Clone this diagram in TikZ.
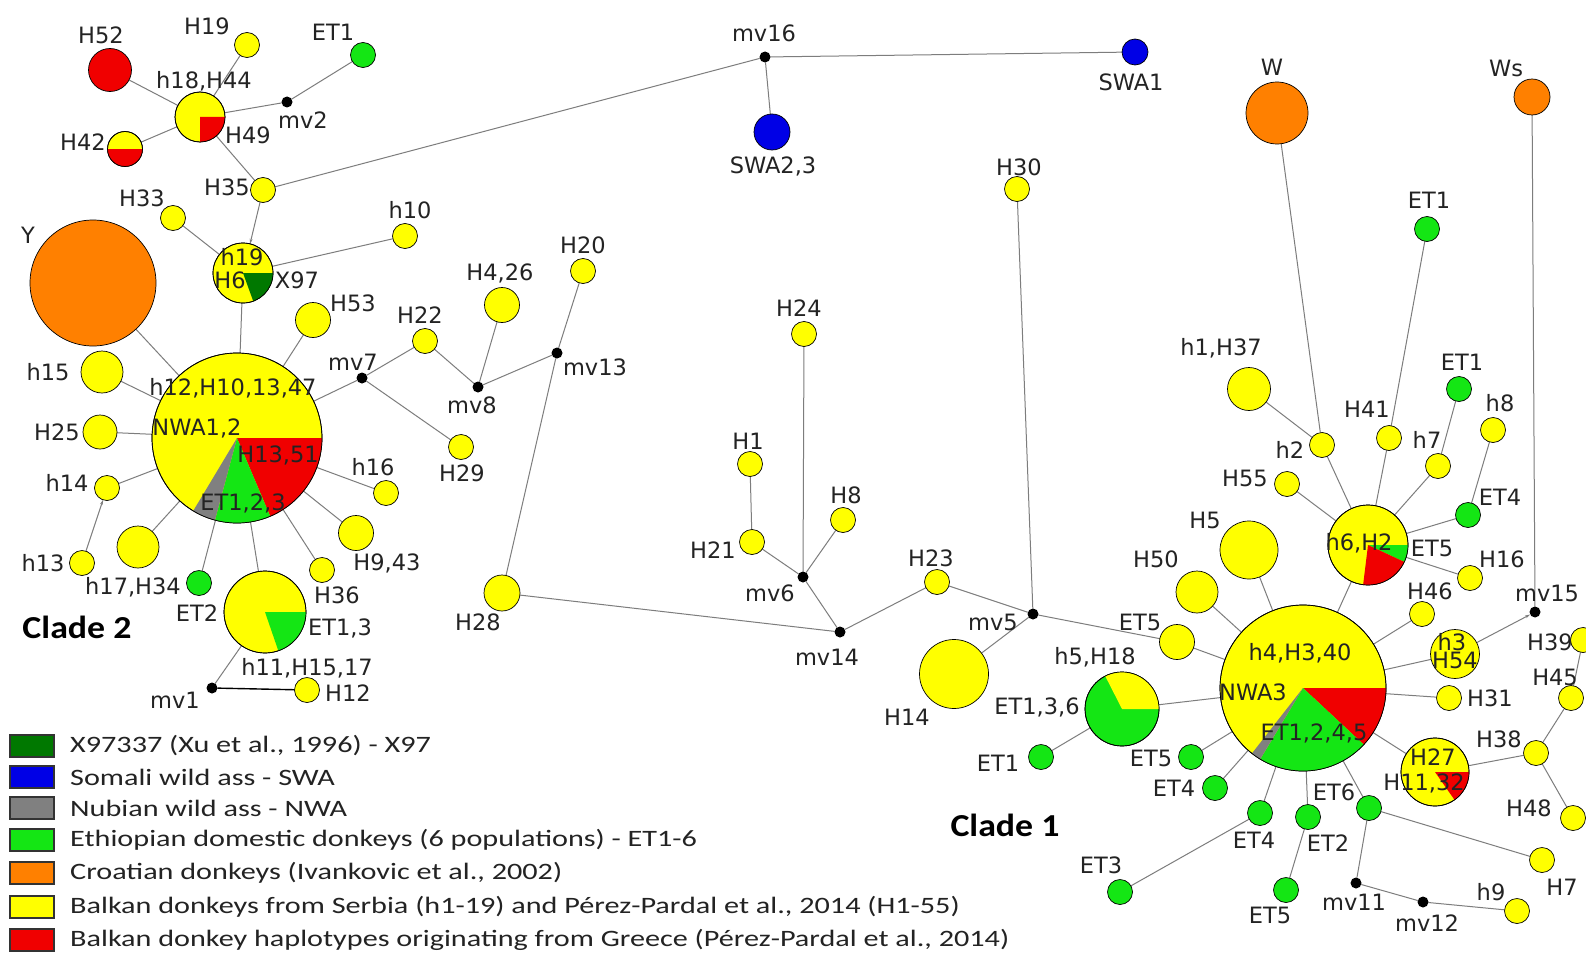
\documentclass[tikz,border=0pt]{standalone}
\usepackage{fontspec}
\setmainfont{DejaVu Sans}
\newfontfamily\legfont[FakeStretch=1.285]{Carlito}
\newfontfamily\cladefont[FakeStretch=1.12]{Carlito}
\usetikzlibrary{arrows.meta}
\pgfdeclarelayer{back}
\pgfdeclarelayer{bg}
\pgfsetlayers{back,bg,main}
\definecolor{cyel}{RGB}{255,255,0}
\definecolor{cred}{RGB}{240,0,0}
\definecolor{cgrn}{RGB}{20,230,20}
\definecolor{cdgr}{RGB}{0,120,0}
\definecolor{cblu}{RGB}{0,0,230}
\definecolor{cgry}{RGB}{128,128,128}
\definecolor{corg}{RGB}{255,128,0}
\definecolor{cedge}{RGB}{125,125,125}
\definecolor{ctxt}{RGB}{35,35,35}
\newcommand\lblfont{\fontsize{22.5}{26}\selectfont}
\newcommand\hp[4]{\node[hapn,fill=#4,minimum size=#3pt] (#1) at (#2) {};}
\newcommand\mvd[2]{\node[mvn] (#1) at (#2) {};}
\newcommand\sect[5]{\fill[#5] (#1.center) -- ++(#2:#4pt) arc[start angle=#2,end angle=#3,radius=#4pt] -- cycle;}
\newcommand\ring[2]{\draw[line width=0.7pt] (#1.center) circle[radius=#2pt];}
\newcommand\lb[3]{\node[lbl] (#1) at (#2) {#3};}
\begin{document}
\begin{tikzpicture}[x=1pt,y=-1pt,
  hapn/.style={circle,draw=black,line width=0.7pt,inner sep=0pt,outer sep=0pt},
  mvn/.style={circle,fill=black,inner sep=0pt,outer sep=0pt,minimum size=11pt},
  edge/.style={draw=cedge,line width=1pt},
  lbl/.style={font=\lblfont,text=ctxt,inner sep=0pt},
  legsq/.style={rectangle,draw=black!80,line width=1.2pt,minimum width=44pt,minimum height=22pt,inner sep=0pt},
  legtxt/.style={font=\legfont\fontsize{23.5}{26}\selectfont,text=ctxt,anchor=west,inner sep=0pt},
  clade/.style={font=\cladefont\bfseries\fontsize{32}{36}\selectfont,text=black,inner sep=0pt}]
\begin{pgfonlayer}{back}
\fill[white] (0,0) rectangle (1586,955);
\end{pgfonlayer}
\useasboundingbox (0,0) rectangle (1586,955);

% ---------- left cluster (Clade 2) ----------
\hp{H52}{110,70}{43}{cred}
\hp{H19}{247,45}{25}{cyel}
\hp{ETa}{363,55}{25}{cgrn}
\hp{P1}{200,117}{50}{cyel}
\mvd{mv2}{287,102}
\hp{H42}{125,149}{35}{cyel}
\hp{H35}{263,190}{25}{cyel}
\hp{H33}{173,218}{25}{cyel}
\hp{Y}{93,283}{126}{corg}
\hp{h10}{405,236}{25}{cyel}
\hp{P2}{243,273}{60}{cyel}
\hp{H53}{313,320}{35}{cyel}
\hp{B1}{237,438}{170}{cyel}
\hp{h15}{102,372}{42}{cyel}
\hp{H25}{100,432}{34}{cyel}
\hp{h14}{107,488}{25}{cyel}
\hp{h13}{82,563}{25}{cyel}
\hp{U1}{138,547}{42}{cyel}
\hp{ETb}{199,583}{25}{cgrn}
\hp{P3}{265,612}{82}{cyel}
\mvd{mv1}{212,688}
\hp{H12}{307,690}{25}{cyel}
\hp{H36}{322,570}{25}{cyel}
\hp{H943}{356,533}{35}{cyel}
\hp{h16}{386,493}{25}{cyel}
\mvd{mv7}{362,378}
\hp{H22}{425,341}{25}{cyel}
\hp{H426}{502,305}{35}{cyel}
\hp{H20}{583,271}{25}{cyel}
\mvd{mv8}{478,387}
\mvd{mv13}{557,353}
\hp{H29}{461,447}{25}{cyel}
\hp{H28}{502,593}{36}{cyel}

% ---------- middle ----------
\mvd{mv16}{765,57}
\hp{SWA1}{1135,52}{26}{cblu}
\hp{SWA23}{772,132}{36}{cblu}
\hp{H30}{1017,189}{25}{cyel}
\hp{H24}{804,334}{25}{cyel}
\hp{H1}{750,464}{25}{cyel}
\hp{H21}{752,542}{25}{cyel}
\hp{H8}{843,520}{25}{cyel}
\mvd{mv6}{803,577}
\mvd{mv14}{840,632}
\hp{H23}{937,582}{25}{cyel}
\mvd{mv5}{1033,614}
\hp{H14}{954,674}{69}{cyel}

% ---------- right cluster (Clade 1) ----------
\hp{Y5}{1177,642}{35}{cyel}
\hp{P4}{1122,709}{74}{cgrn}
\hp{ETc}{1041,757}{25}{cgrn}
\hp{W}{1277,113}{62}{corg}
\hp{Ws}{1532,97}{36}{corg}
\hp{ETd}{1427,229}{25}{cgrn}
\hp{h1H37}{1249,389}{43}{cyel}
\hp{h2}{1322,445}{25}{cyel}
\hp{H41}{1389,438}{25}{cyel}
\hp{ETe}{1459,389}{25}{cgrn}
\hp{h8}{1493,430}{25}{cyel}
\hp{h7}{1438,466}{25}{cyel}
\hp{H55}{1287,484}{25}{cyel}
\hp{ETf}{1468,515}{25}{cgrn}
\hp{P7}{1368,545}{80}{cyel}
\hp{H5}{1249,550}{58}{cyel}
\hp{H50}{1197,592}{42}{cyel}
\hp{H16}{1470,578}{25}{cyel}
\hp{H46}{1422,614}{25}{cyel}
\mvd{mv15}{1535,612}
\hp{P6}{1455,654}{49}{cyel}
\hp{H39}{1583,640}{25}{cyel}
\hp{H31}{1449,698}{25}{cyel}
\hp{H45}{1571,698}{25}{cyel}
\hp{B2}{1303,688}{166}{cyel}
\hp{ETg}{1191,757}{25}{cgrn}
\hp{ETh}{1215,788}{25}{cgrn}
\hp{ETi}{1260,813}{25}{cgrn}
\hp{ETj}{1308,817}{25}{cgrn}
\hp{ETk}{1369,808}{25}{cgrn}
\hp{ETl}{1120,892}{25}{cgrn}
\hp{ETm}{1286,890}{25}{cgrn}
\mvd{mv11}{1356,883}
\mvd{mv12}{1423,902}
\hp{h9}{1517,911}{25}{cyel}
\hp{H7}{1542,860}{25}{cyel}
\hp{H48}{1573,818}{25}{cyel}
\hp{H38}{1536,753}{25}{cyel}
\hp{P5}{1435,772}{68}{cyel}

% ---------- pie sectors ----------
\sect{P1}{-90}{0}{25}{cred}\ring{P1}{25}
\sect{H42}{180}{360}{17.5}{cred}\ring{H42}{17.5}
\sect{P2}{-70}{0}{30}{cdgr}\ring{P2}{30}
\sect{B1}{-67}{0}{85}{cred}
\sect{B1}{-105}{-67}{85}{cgrn}
\sect{B1}{-121}{-105}{85}{cgry}\ring{B1}{85}
\sect{P3}{-71}{0}{41}{cgrn}\ring{P3}{41}
\sect{P4}{0}{117}{37}{cyel}\ring{P4}{37}
\sect{P7}{-25}{0}{40}{cgrn}
\sect{P7}{-97}{-25}{40}{cred}\ring{P7}{40}
\sect{B2}{-43}{0}{83}{cred}
\sect{B2}{-121}{-43}{83}{cgrn}
\sect{B2}{-128}{-121}{83}{cgry}\ring{B2}{83}
\sect{P5}{-55}{0}{34}{cred}\ring{P5}{34}

% ---------- connectors ----------
\begin{pgfonlayer}{bg}
\draw[edge] (H52) -- (P1);
\draw[edge] (H19) -- (P1);
\draw[edge] (P1) -- (mv2);
\draw[edge] (mv2) -- (ETa);
\draw[edge] (H42) -- (P1);
\draw[edge] (P1) -- (H35);
\draw[edge,-{Stealth[length=5pt,width=3pt]}] (H35) -- (P2);
\draw[edge] (H35) -- (mv16);
\draw[edge] (H33) -- (P2);
\draw[edge] (P2) -- (h10);
\draw[edge] (P2) -- (B1);
\draw[edge] (Y) -- (B1);
\draw[edge] (h15) -- (B1);
\draw[edge] (H25) -- (B1);
\draw[edge] (h14) -- (B1);
\draw[edge,-{Stealth[length=5pt,width=3pt]}] (h13) -- (h14);
\draw[edge] (U1) -- (B1);
\draw[edge] (ETb) -- (B1);
\draw[edge] (P3) -- (B1);
\draw[edge] (H36) -- (B1);
\draw[edge] (H943) -- (B1);
\draw[edge] (h16) -- (B1);
\draw[edge] (mv7) -- (B1);
\draw[edge] (H53) -- (B1);
\draw[edge] (mv1) -- (P3);
\draw[draw=black,line width=1.4pt] (mv1) -- (H12);
\draw[edge] (mv7) -- (H22);
\draw[edge] (mv7) -- (H29);
\draw[edge] (H22) -- (mv8);
\draw[edge] (mv8) -- (H426);
\draw[edge] (mv8) -- (mv13);
\draw[edge] (mv13) -- (H20);
\draw[edge] (mv13) -- (H28);
\draw[edge] (H28) -- (mv14);
\draw[edge] (mv14) -- (mv6);
\draw[edge] (mv6) -- (H21);
\draw[edge] (H21) -- (H1);
\draw[edge] (mv6) -- (H24);
\draw[edge] (mv6) -- (H8);
\draw[edge] (mv14) -- (H23);
\draw[edge] (H23) -- (mv5);
\draw[edge] (mv5) -- (H30);
\draw[edge] (mv5) -- (H14);
\draw[edge] (mv5) -- (Y5);
\draw[edge] (Y5) -- (B2);
\draw[edge] (mv16) -- (SWA1);
\draw[edge] (mv16) -- (SWA23);
\draw[edge] (P4) -- (B2);
\draw[edge] (P4) -- (ETc);
\draw[edge] (ETg) -- (B2);
\draw[edge] (ETh) -- (B2);
\draw[edge] (ETi) -- (B2);
\draw[edge] (ETi) -- (ETl);
\draw[edge] (ETj) -- (B2);
\draw[edge] (ETj) -- (ETm);
\draw[edge] (ETk) -- (B2);
\draw[edge] (ETk) -- (mv11);
\draw[edge] (ETk) -- (H7);
\draw[edge] (mv11) -- (mv12);
\draw[edge] (mv12) -- (h9);
\draw[edge] (P5) -- (B2);
\draw[edge] (P5) -- (H38);
\draw[edge] (H38) -- (H45);
\draw[edge] (H38) -- (H48);
\draw[edge] (H45) -- (H39);
\draw[edge] (H31) -- (B2);
\draw[edge] (P6) -- (B2);
\draw[edge,-{Stealth[length=5pt,width=3pt]}] (P6) -- (mv15);
\draw[edge] (mv15) -- (Ws);
\draw[edge] (H46) -- (B2);
\draw[edge] (P7) -- (B2);
\draw[edge] (H50) -- (B2);
\draw[edge] (H5) -- (B2);
\draw[edge] (P7) -- (H55);
\draw[edge] (P7) -- (h2);
\draw[edge] (h2) -- (h1H37);
\draw[edge] (h2) -- (W);
\draw[edge] (P7) -- (H41);
\draw[edge] (H41) -- (ETd);
\draw[edge] (P7) -- (h7);
\draw[edge] (h7) -- (ETe);
\draw[edge] (P7) -- (ETf);
\draw[edge] (ETf) -- (h8);
\draw[edge] (P7) -- (H16);
\end{pgfonlayer}

% ---------- labels ----------
\lb{tH52}{101,35}{H52}
\lb{tH19}{207,26}{H19}
\lb{tETa}{333,32}{ET1}
\lb{tP1}{204,81}{h18,H44}
\lb{tH49}{248,135}{H49}
\lb{tmv2}{303,120}{mv2}
\lb{tH42}{83,142}{H42}
\lb{tH35}{227,187}{H35}
\lb{tH33}{142,198}{H33}
\lb{tY}{28,235}{Y}
\lb{th10}{410,210}{h10}
\lb{th19}{242,257}{h19}
\lb{tH6}{230,280}{H6}
\lb{tX97}{297,280}{X97}
\lb{tH20}{583,245}{H20}
\lb{tH426}{500,273}{H4,26}
\lb{tH53}{353,303}{H53}
\lb{tH22}{420,315}{H22}
\lb{tmv7}{353,362}{mv7}
\lb{tmv13}{595,367}{mv13}
\lb{tmv8}{472,405}{mv8}
\lb{th15}{48,372}{h15}
\lb{tB1}{233,388}{h12,H10,13,47}
\lb{tNWA}{197,428}{NWA1,2}
\lb{tH25}{57,432}{H25}
\lb{tH1351}{278,455}{H13,51}
\lb{th16}{373,467}{h16}
\lb{tH29}{462,473}{H29}
\lb{th14}{67,483}{h14}
\lb{tET123}{243,503}{ET1,2,3}
\lb{th13}{43,563}{h13}
\lb{tH943}{387,563}{H9,43}
\lb{tU1}{133,587}{h17,H34}
\lb{tH36}{337,595}{H36}
\lb{tETb}{197,613}{ET2}
\lb{tET13}{340,628}{ET1,3}
\lb{tH28}{478,622}{H28}
\lb{tP3}{307,668}{h11,H15,17}
\lb{tmv1}{175,700}{mv1}
\lb{tH12}{348,693}{H12}
\lb{tmv16}{764,33}{mv16}
\lb{tSWA1}{1131,82}{SWA1}
\lb{tSWA23}{773,166}{SWA2,3}
\lb{tH30}{1019,167}{H30}
\lb{tH24}{799,308}{H24}
\lb{tH1}{748,441}{H1}
\lb{tH8}{846,495}{H8}
\lb{tH21}{713,550}{H21}
\lb{tH23}{931,558}{H23}
\lb{tmv6}{770,593}{mv6}
\lb{tmv5}{993,622}{mv5}
\lb{tmv14}{827,657}{mv14}
\lb{tW}{1272,67}{W}
\lb{tWs}{1506,68}{Ws}
\lb{tETd}{1429,200}{ET1}
\lb{th1H37}{1221,348}{h1,H37}
\lb{tH41}{1367,409}{H41}
\lb{tETe}{1462,362}{ET1}
\lb{th8}{1500,403}{h8}
\lb{th2}{1290,450}{h2}
\lb{th7}{1427,440}{h7}
\lb{tH55}{1245,478}{H55}
\lb{tETf}{1500,497}{ET4}
\lb{tH5}{1205,520}{H5}
\lb{tP7}{1359,543}{h6,H2}
\lb{tET5a}{1432,548}{ET5}
\lb{tH16}{1502,559}{H16}
\lb{tH50}{1156,559}{H50}
\lb{tH46}{1430,591}{H46}
\lb{tmv15}{1547,593}{mv15}
\lb{tY5}{1140,622}{ET5}
\lb{tP4}{1095,657}{h5,H18}
\lb{tB2}{1300,653}{h4,H3,40}
\lb{th3}{1452,642}{h3}
\lb{tH54}{1455,660}{H54}
\lb{tH39}{1550,642}{H39}
\lb{tH45}{1555,677}{H45}
\lb{tNWA3}{1253,692}{NWA3}
\lb{tH31}{1490,698}{H31}
\lb{tH14}{907,717}{H14}
\lb{tET136}{1037,707}{ET1,3,6}
\lb{tET1245}{1314,733}{ET1,2,4,5}
\lb{tETc}{998,763}{ET1}
\lb{tETg}{1151,758}{ET5}
\lb{tETh}{1174,788}{ET4}
\lb{tETk}{1334,792}{ET6}
\lb{tH27}{1433,757}{H27}
\lb{tH1132}{1424,783}{H11,32}
\lb{tH38}{1499,739}{H38}
\lb{tH48}{1529,808}{H48}
\lb{tETi}{1254,840}{ET4}
\lb{tETj}{1328,843}{ET2}
\lb{tETl}{1101,865}{ET3}
\lb{tH7}{1562,887}{H7}
\lb{th9}{1491,892}{h9}
\lb{tmv11}{1354,902}{mv11}
\lb{tmv12}{1427,923}{mv12}
\lb{tETm}{1270,915}{ET5}

\node[clade] (clade2) at (77,627) {Clade 2};
\node[clade] (clade1) at (1005,825) {Clade 1};

% ---------- legend ----------
\node[legsq,fill=cdgr] (q1) at (32,746) {};
\node[legsq,fill=cblu] (q2) at (32,777) {};
\node[legsq,fill=cgry] (q3) at (32,808) {};
\node[legsq,fill=cgrn] (q4) at (32,840) {};
\node[legsq,fill=corg] (q5) at (32,873) {};
\node[legsq,fill=cyel] (q6) at (32,907) {};
\node[legsq,fill=cred] (q7) at (32,940) {};
\node[legtxt] (l1) at (70,746) {X97337 (Xu et al., 1996) - X97};
\node[legtxt] (l2) at (70,777) {Somali wild ass - SWA};
\node[legtxt] (l3) at (70,808) {Nubian wild ass - NWA};
\node[legtxt] (l4) at (70,840) {Ethiopian domestic donkeys (6 populations) - ET1-6};
\node[legtxt] (l5) at (70,873) {Croatian donkeys (Ivankovic et al., 2002)};
\node[legtxt] (l6) at (70,907) {Balkan donkeys from Serbia (h1-19) and Pérez-Pardal et al., 2014 (H1-55)};
\node[legtxt] (l7) at (70,940) {Balkan donkey haplotypes originating from Greece (Pérez-Pardal et al., 2014)};
\end{tikzpicture}
\end{document}
